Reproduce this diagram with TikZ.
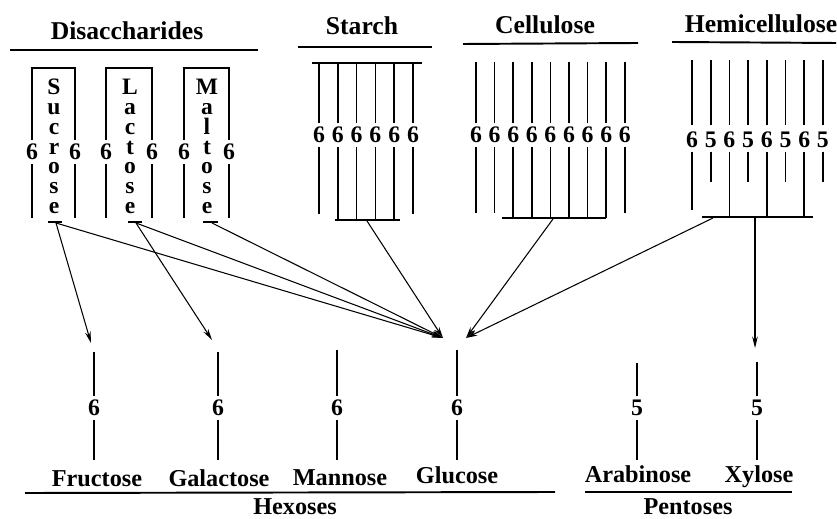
\documentclass[tikz,border=0pt]{standalone}
\usepackage{fontspec}
\setmainfont{Liberation Serif}
\usepackage{tikz}
\usetikzlibrary{arrows.meta}
\tikzset{
  grptitle/.style={font=\bfseries\fontsize{14.6}{17}\selectfont,inner sep=0pt,anchor=base},
  sugname/.style={font=\bfseries\fontsize{13.8}{16}\selectfont,inner sep=0pt,anchor=base},
  vletter/.style={font=\bfseries\fontsize{13.4}{15}\selectfont,inner sep=0pt,anchor=base},
  ringnum/.style={font=\bfseries\fontsize{13.5}{16}\selectfont,inner xsep=0pt,inner ysep=2pt},
  chain/.style={line width=0.9pt},
  grprule/.style={line width=1.1pt},
  cleave/.style={-{Stealth[length=6.5pt,width=3.2pt]},line width=0.6pt},
}

\begin{document}
\begin{tikzpicture}[x=0.02cm,y=-0.02cm]
  \useasboundingbox (0,0) rectangle (837,519);
  % group headings
  \node[grptitle] (nDisacc) at (127,40) {Disaccharides};
  \node[grptitle] (nStarch) at (362,35) {Starch};
  \node[grptitle] (nCellulose) at (545,34) {Cellulose};
  \node[grptitle] (nHemicell) at (761,33) {Hemicellulose};
  \draw[grprule] (10,50) -- (258,50);
  \draw[grprule] (298,47) -- (432,47);
  \draw[grprule] (463,44) -- (638,43);
  \draw[grprule] (672,42) -- (836,43);
  % disaccharides
  \foreach \dn/\xl/\xr/\xm/\word in {Suc/32/75/54/{S,u,c,r,o,s,e},Lac/106/152/130/{L,a,c,t,o,s,e},Mal/184/229/207/{M,a,l,t,o,s,e}} {
    \node[ringnum] (n\dn L) at (\xl,152) {6};
    \node[ringnum] (n\dn R) at (\xr,152) {6};
    \draw[chain] (n\dn L.north) -- (\xl,68) -- (\xr,68) -- (n\dn R.north);
    \draw[chain] (n\dn L.south) -- (\xl,218);
    \draw[chain] (n\dn R.south) -- (\xr,218);
    \foreach \ch [count=\k from 0] in \word
      \node[vletter] (n\dn\k) at (\xm,95+19.7*\k) {\ch};
  }
  \draw[chain] (48,222) -- (62,222);
  \draw[chain] (128,222) -- (142,222);
  \draw[chain] (203,222) -- (218,222);
  % starch
  \draw[chain] (312,63) -- (422,63);
  \foreach \i/\yb in {0/214,1/220,2/220,3/220,4/220,5/214} {
    \node[ringnum] (nSt\i) at (319+18.8*\i,135) {6};
    \draw[chain] (nSt\i.north) -- (319+18.8*\i,63);
    \draw[chain] (nSt\i.south) -- (319+18.8*\i,\yb);
  }
  \draw[chain] (335,220) -- (400,220);
  % cellulose
  \foreach \i/\yb in {0/213,1/213,2/218,3/218,4/218,5/218,6/218,7/218,8/213} {
    \node[ringnum] (nCe\i) at (476+18.6*\i,135) {6};
    \draw[chain] (nCe\i.north) -- (476+18.6*\i,62);
    \draw[chain] (nCe\i.south) -- (476+18.6*\i,\yb);
  }
  \draw[chain] (502,218) -- (606,218);
  % hemicellulose
  \foreach \i/\r/\yb in {0/6/210,1/5/182,2/6/216,3/5/182,4/6/216,5/5/182,6/6/216,7/5/182} {
    \node[ringnum] (nHe\i) at (692+18.7*\i,140) {\r};
    \draw[chain] ([yshift=2pt]nHe\i.north) -- (692+18.7*\i,60);
    \draw[chain] (nHe\i.south) -- (692+18.7*\i,\yb);
  }
  \draw[chain] (702,217) -- (813,217);
  % monosaccharides
  \foreach \sg/\xc/\r/\ytop/\lbl/\lx/\ly in {Fru/94/6/352/Fructose/97/486,Gal/218/6/352/Galactose/219/486,Man/337/6/350/Mannose/340/485,Glc/457/6/350/Glucose/457/483,Ara/637/5/363/Arabinose/638/482,Xyl/757/5/362/Xylose/759/482} {
    \node[ringnum] (n\sg Num) at (\xc,408) {\r};
    \draw[chain] (n\sg Num.north) -- (\xc,\ytop);
    \draw[chain] (n\sg Num.south) -- (\xc,460);
    \node[sugname] (n\sg) at (\lx,\ly) {\lbl};
  }
  \draw[grprule] (25,493) -- (555,492);
  \draw[grprule] (585,492) -- (792,492);
  \node[sugname] (nHexoses) at (295,514) {Hexoses};
  \node[sugname] (nPentoses) at (688,514) {Pentoses};
  % hydrolysis arrows
  \coordinate (nSucOut) at (56,223);
  \coordinate (nLacOut) at (136,223);
  \coordinate (nMalOut) at (212,223);
  \coordinate (nStOut) at (367,221);
  \coordinate (nCelOut) at (553,219);
  \coordinate (nHemOut) at (713,218);
  \coordinate (nHemOutX) at (755,218);
  \coordinate (nFruIn) at (91,343);
  \coordinate (nGalIn) at (212,340);
  \coordinate (nGlcInL) at (443,338);
  \coordinate (nGlcInR) at (466,338);
  \coordinate (nXylIn) at (755,348);
  \draw[cleave] (nSucOut) -- (nFruIn);
  \draw[cleave] (nSucOut) -- (nGlcInL);
  \draw[cleave] (nLacOut) -- (nGalIn);
  \draw[cleave] (nLacOut) -- (nGlcInL);
  \draw[cleave] (nMalOut) -- (nGlcInL);
  \draw[cleave] (nStOut) -- (nGlcInL);
  \draw[cleave] (nCelOut) -- (nGlcInR);
  \draw[cleave] (nHemOut) -- (nGlcInR);
  \draw[cleave] (nHemOutX) -- (nXylIn);
\end{tikzpicture}
\end{document}
